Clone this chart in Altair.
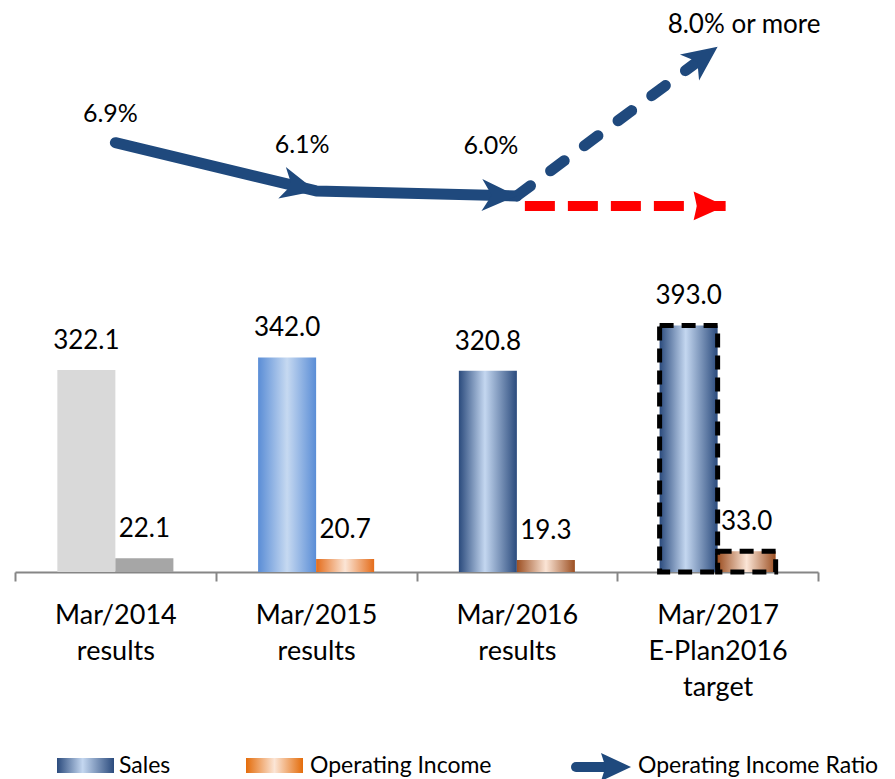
import altair as alt
import pandas as pd

# ---------------- data ----------------
categories = ["Mar/2014\nresults", "Mar/2015\nresults", "Mar/2016\nresults",
              "Mar/2017\nE-Plan2016\ntarget"]
series_names = ["Sales", "Operating Income"]
sales = [322.1, 342.0, 320.8, 393.0]
operating_income = [22.1, 20.7, 19.3, 33.0]
income_ratio = [6.9, 6.1, 6.0, 8.0]
ratio_labels = ["6.9%", "6.1%", "6.0%", "8.0% or more"]
flat_ratio = [6.0, 6.0]          # red dashed reference (Mar/2016 -> Mar/2017)
legend_labels = ["Sales", "Operating Income", "Operating Income Ratio"]

bars_df = pd.DataFrame({
    "category": categories * 2,
    "series": [series_names[0]] * 4 + [series_names[1]] * 4,
    "value": sales + operating_income,
})
ratio_df = pd.DataFrame({"category": categories, "ratio": income_ratio,
                         "label": ratio_labels})
flat_df = pd.DataFrame({"category": categories[2:], "ratio": flat_ratio})
legend_df = pd.DataFrame({"label": legend_labels})

# ---------------- styles ----------------
FONT = "Lato"
NAVY = "#1f497d"


def hgrad(edge, center, mid=0.5, edge2=None):
    return alt.LinearGradient(
        gradient="linear", x1=0, x2=1, y1=0, y2=0,
        stops=[alt.GradientStop(color=edge, offset=0),
               alt.GradientStop(color=center, offset=mid),
               alt.GradientStop(color=edge2 or edge, offset=1)])


blue_grad = hgrad("#5a8dd6", "#c6d9f1")
orange_grad = hgrad("#e46c1a", "#fbe5d6")
navy_grad = hgrad("#2b4b7d", "#c4d7f0", 0.45)
brown_grad = hgrad("#9c4f22", "#fbe5d6")
legend_orange = hgrad("#e46c0a", "#fbe5d6")

x_enc = alt.X(
    "category:N", sort=categories,
    scale=alt.Scale(domain=categories, paddingInner=0, paddingOuter=0),
    axis=alt.Axis(title=None, labelAngle=0, tickBand="extent", grid=False,
                  domainColor="#868686", domainWidth=2, tickColor="#868686",
                  tickWidth=2, tickSize=9, labelFont=FONT, labelFontSize=27,
                  labelColor="black", labelLineHeight=36,
                  labelBaseline="alphabetic", labelPadding=42,
                  labelOverlap=False,
                  labelExpr="split(datum.label, '\\n')"))
xoff_enc = alt.XOffset("series:N", sort=series_names,
                       scale=alt.Scale(domain=series_names, paddingInner=0,
                                       paddingOuter=0.73))
bar_scale = alt.Scale(domain=[0, 896], nice=False, zero=True)
ratio_scale = alt.Scale(type="pow", exponent=3.7, domain=[-8.6, 8.33],
                        nice=False, zero=False)
y_bar = alt.Y("value:Q", scale=bar_scale, axis=None)
y_ratio = alt.Y("ratio:Q", scale=ratio_scale, axis=None)


def in_cats(idx):
    return alt.FieldOneOfPredicate(field="category",
                                   oneOf=[categories[i] for i in idx])


def bar_layer(idx, series, fill, **kw):
    return (alt.Chart(bars_df).mark_bar(fill=fill, **kw)
            .encode(x=x_enc, xOffset=xoff_enc, y=y_bar)
            .transform_filter(in_cats(idx))
            .transform_filter(alt.datum.series == series))


dash_border = dict(stroke="black", strokeWidth=5, strokeDash=[14, 8])
layers = [
    bar_layer([0], "Sales", "#d9d9d9"),
    bar_layer([0], "Operating Income", "#a6a6a6"),
    bar_layer([1], "Sales", blue_grad),
    bar_layer([1], "Operating Income", orange_grad),
    bar_layer([2], "Sales", navy_grad),
    bar_layer([2], "Operating Income", brown_grad),
    bar_layer([3], "Sales", navy_grad, **dash_border),
    bar_layer([3], "Operating Income", brown_grad, **dash_border),
    alt.Chart(bars_df).mark_text(dy=-21, baseline="alphabetic", font=FONT,
                                 fontSize=26, color="black")
    .encode(x=x_enc, xOffset=xoff_enc, y=y_bar,
            text=alt.Text("value:Q", format=".1f")),
]

# ---------------- ratio arrows ----------------
ARROW = "M0,0 L-1,-0.46 L-0.72,0 L-1,0.46 Z"
RED_ARROW = "M0,0 L-1,-0.45 L-0.9,0 L-1,0.45 Z"

layers += [
    alt.Chart(ratio_df).mark_line(color=NAVY, strokeWidth=11,
                                  strokeCap="round", strokeJoin="round")
    .encode(x=x_enc, y=y_ratio).transform_filter(in_cats([0, 1, 2])),
    alt.Chart(ratio_df).mark_line(color=NAVY, strokeWidth=11,
                                  strokeCap="round", strokeDash=[17, 25])
    .encode(x=x_enc, y=y_ratio).transform_filter(in_cats([2, 3])),
    alt.Chart(flat_df).mark_line(color="#ff0000", strokeWidth=10,
                                 strokeCap="butt", strokeDash=[30, 13],
                                 xOffset=8, yOffset=10)
    .encode(x=x_enc, y=y_ratio),
    alt.Chart(flat_df).mark_point(shape=RED_ARROW, size=4096, filled=True,
                                  color="#ff0000", opacity=1,
                                  xOffset=8, yOffset=10)
    .encode(x=x_enc, y=y_ratio).transform_filter(in_cats([3])),
]
for i, ang in [(1, 13.5), (2, 1.5), (3, 323.5)]:
    layers.append(
        alt.Chart(ratio_df).mark_point(shape=ARROW, size=4900, filled=True,
                                       color=NAVY, opacity=1, angle=ang)
        .encode(x=x_enc, y=y_ratio).transform_filter(in_cats([i])))
for i, dx, dy, al, fs in [(0, -5, -21, "center", 25),
                          (1, -14, -38, "center", 25),
                          (2, -26, -42, "center", 25),
                          (3, -50, -14, "left", 26)]:
    layers.append(
        alt.Chart(ratio_df).mark_text(dx=dx, dy=dy, align=al,
                                      baseline="alphabetic", font=FONT,
                                      fontSize=fs, color="black")
        .encode(x=x_enc, y=y_ratio, text="label:N")
        .transform_filter(in_cats([i])))

# ---------------- legend ----------------
def legend_item(label):
    return alt.Chart(legend_df).transform_filter(alt.datum.label == label)


LY = 756
layers += [
    legend_item("Sales").mark_rect(fill=navy_grad).encode(
        x=alt.value(42), x2=alt.value(99), y=alt.value(LY - 8),
        y2=alt.value(LY + 7)),
    legend_item("Operating Income").mark_rect(fill=legend_orange).encode(
        x=alt.value(231), x2=alt.value(288), y=alt.value(LY - 8),
        y2=alt.value(LY + 7)),
    legend_item("Operating Income Ratio").mark_rule(
        color=NAVY, strokeWidth=10, strokeCap="round").encode(
        x=alt.value(561), x2=alt.value(600), y=alt.value(LY + 1)),
    legend_item("Operating Income Ratio").mark_point(
        shape="M0,0 L-1,-0.47 L-0.85,0 L-1,0.47 Z", size=3600, filled=True,
        color=NAVY, opacity=1).encode(x=alt.value(616), y=alt.value(LY + 1)),
]
for label, lx in [("Sales", 104), ("Operating Income", 295),
                  ("Operating Income Ratio", 623)]:
    layers.append(
        legend_item(label).mark_text(align="left", baseline="middle",
                                     font=FONT, fontSize=23, color="black")
        .encode(x=alt.value(lx), y=alt.value(LY), text="label:N"))

chart = (
    alt.layer(*layers)
    .resolve_scale(y="independent")
    .properties(width=803, height=562,
                padding={"left": 7, "top": 2, "right": 69, "bottom": 207},
                autosize=alt.AutoSizeParams(type="none"),
                background="white")
    .configure_view(stroke=None)
)

chart.save("out.html", embed_options={"renderer": "svg", "actions": False})
